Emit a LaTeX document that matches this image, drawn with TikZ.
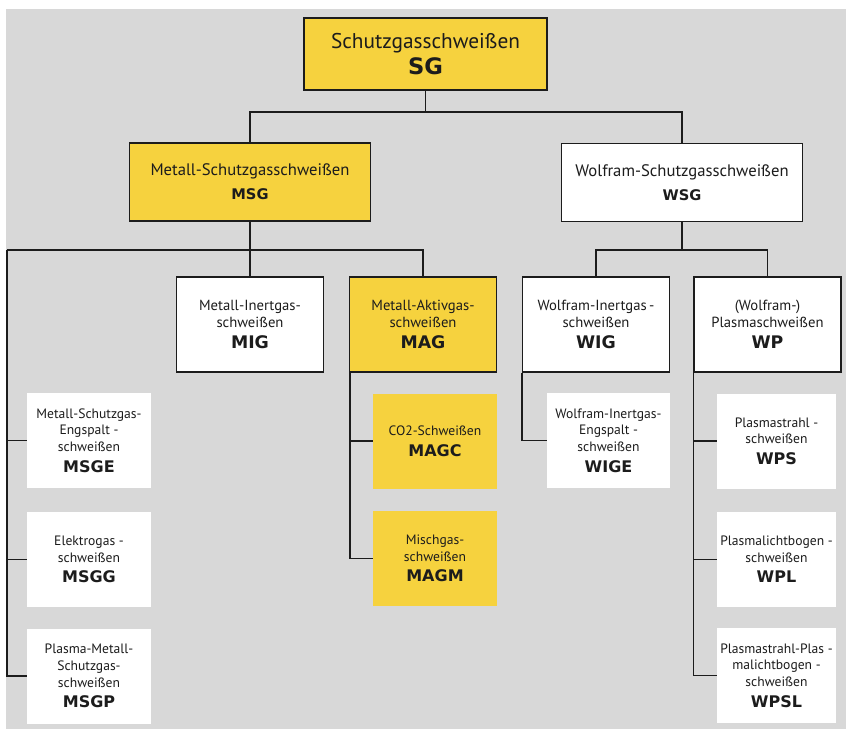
\documentclass[tikz,border=0pt]{standalone}
\usepackage{fontspec}
\setmainfont{PT Sans}
\newfontfamily\codefont{DejaVu Sans}
\usetikzlibrary{calc}
\definecolor{ylw}{RGB}{246,210,62}
\definecolor{bgc}{RGB}{216,216,216}
\definecolor{ink}{RGB}{28,28,28}
\newlength\pxl
\setlength\pxl{0.75pt}
\begin{document}
\begin{tikzpicture}[x=0.75pt,y=-0.75pt,
  topbox/.style={draw=ink,line width=1pt,align=center,inner sep=0pt,text=ink},
  subbox/.style={align=center,inner sep=0pt,text=ink,minimum height=95\pxl},
  wf/.style={fill=white},
  yf/.style={fill=ylw},
  lvlzero/.style={topbox,minimum width=243\pxl,minimum height=72\pxl},
  lvlone/.style={topbox,minimum width=241\pxl,minimum height=78\pxl,font=\fontsize{12.5}{15}\selectfont},
  lvltwo/.style={topbox,minimum width=147\pxl,minimum height=95\pxl,font=\fontsize{11}{12.75}\selectfont},
  lvlthree/.style={subbox,minimum width=124\pxl,font=\fontsize{10.2}{12.5}\selectfont},
  lvlthreer/.style={subbox,minimum width=119\pxl,font=\fontsize{10.2}{12.5}\selectfont},
  conn/.style={draw=ink,line width=1.1pt},
  thickconn/.style={draw=ink,line width=1.6pt}]
\newcommand\codeA[1]{{\codefont\fontsize{17}{20}\selectfont\bfseries #1}}
\newcommand\codeB[1]{{\codefont\fontsize{11}{14}\selectfont\bfseries #1}}
\newcommand\codeC[1]{{\codefont\fontsize{13}{15}\selectfont\bfseries #1}}
\newcommand\codeD[1]{{\codefont\fontsize{12}{14}\selectfont\bfseries #1}}
% canvas
\useasboundingbox (0,0) rectangle (846,731);
\fill[bgc] (6,9) rectangle (846,729);
% level 0
\node[lvlzero,yf] (SG) at (425.5,54) {\fontsize{16}{19}\selectfont Schutzgasschweißen\\[2pt]\codeA{SG}};
% level 1
\node[lvlone,yf] (MSG) at (250,182) {Metall-Schutzgasschweißen\\[3pt]\codeB{MSG}};
\node[lvlone,wf] (WSG) at (682,182.5) {Wolfram-Schutzgasschweißen\\[3pt]\codeB{WSG}};
% level 2
\node[lvltwo,wf] (MIG) at (250,324.5) {Metall-Inertgas-\\schweißen\\[3pt]\codeC{MIG}};
\node[lvltwo,yf] (MAG) at (423,324.5) {Metall-Aktivgas-\\schweißen\\[3pt]\codeC{MAG}};
\node[lvltwo,wf] (WIG) at (596,324.5) {Wolfram-Inertgas\,-\\schweißen\\[3pt]\codeC{WIG}};
\node[lvltwo,wf] (WP) at (767.5,324.5) {(Wolfram-)\\Plasmaschweißen\\[3pt]\codeC{WP}};
% level 3 left
\node[lvlthree,wf] (MSGE) at (89,440.5) {Metall-Schutzgas-\\Engspalt -\\schweißen\\[3pt]\codeD{MSGE}};
\node[lvlthree,wf] (MSGG) at (89,559.5) {Elektrogas -\\schweißen\\[3pt]\codeD{MSGG}};
\node[lvlthree,wf] (MSGP) at (89,676) {Plasma-Metall-\\Schutzgas-\\schweißen\\[3pt]\codeD{MSGP}};
% level 3 MAG
\node[lvlthree,yf] (MAGC) at (435,441) {CO2-Schweißen\\[3pt]\codeD{MAGC}};
\node[lvlthree,yf] (MAGM) at (435,558.5) {Mischgas-\\schweißen\\[3pt]\codeD{MAGM}};
% level 3 WIG
\node[lvlthree,wf,minimum width=123\pxl] (WIGE) at (608.5,440.5) {Wolfram-Inertgas-\\Engspalt -\\schweißen\\[3pt]\codeD{WIGE}};
% level 3 WP
\node[lvlthreer,wf] (WPS) at (776.5,441) {Plasmastrahl -\\schweißen\\[3pt]\codeD{WPS}};
\node[lvlthreer,wf] (WPL) at (776.5,559.5) {Plasmalichtbogen -\\schweißen\\[3pt]\codeD{WPL}};
\node[lvlthreer,wf] (WPSL) at (776.5,675.5) {Plasmastrahl-Plas -\\malichtbogen -\\schweißen\\[3pt]\codeD{WPSL}};
% bus coordinates
\coordinate (busA) at (425.5,112);
\coordinate (busB) at (250,250);
\coordinate (busBL) at (7,250);
\coordinate (busC) at (682,250);
\coordinate (magL) at ($(MAG.south west)+(1,0)$);
\coordinate (wigL) at (WIG.south west);
\coordinate (wpL) at (WP.south west);
% connectors
\draw[conn] (SG.south) -- (busA);
\draw[conn] (MSG.north) |- (busA) -| (WSG.north);
\draw[conn] (MSG.south) -- (busB);
\draw[conn] (MIG.north) -- (busB);
\draw[conn] (busBL) -- (MAG.north |- busB) -- (MAG.north);
\draw[thickconn] (busBL) -- (busBL |- MSGP.west);
\draw[conn] (busBL) |- (MSGE.west);
\draw[conn] (busBL) |- (MSGG.west);
\draw[conn] (busBL) |- (MSGP.west);
\draw[conn] (magL) |- (MAGC.west);
\draw[conn] (magL) |- (MAGM.west);
\draw[conn] (WSG.south) -- (busC);
\draw[conn] (WIG.north) |- (busC) -| (WP.north);
\draw[conn] (wigL) |- (WIGE.west);
\draw[conn] (wpL) |- (WPS.west);
\draw[conn] (wpL) |- (WPL.west);
\draw[conn] (wpL) |- (WPSL.west);
\end{tikzpicture}
\end{document}
